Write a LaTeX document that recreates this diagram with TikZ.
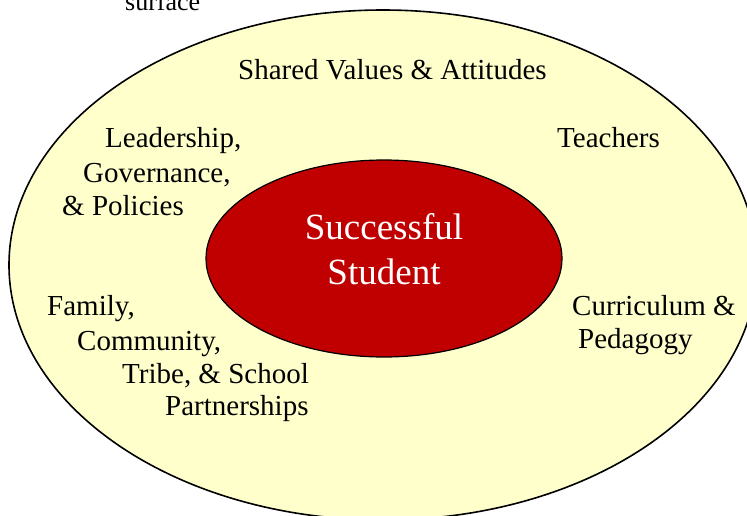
\documentclass[tikz,border=0pt]{standalone}
\usepackage{fontspec}
\setmainfont{Liberation Serif}
\definecolor{outerfill}{HTML}{FFFFCC}
\definecolor{innerfill}{HTML}{C00000}
\tikzset{
  lbl/.style={inner sep=0pt, anchor=base west, font=\fontsize{29}{35}\selectfont, text=black},
  toplbl/.style={inner sep=0pt, anchor=base west, font=\fontsize{26}{31}\selectfont, text=black},
  outerell/.style={draw=black, line width=1.6pt, fill=outerfill},
  innerell/.style={draw=black, line width=1.2pt, fill=innerfill},
  centerlbl/.style={align=center, text=white, font=\fontsize{37}{45}\selectfont}
}
\begin{document}
\begin{tikzpicture}[x=1pt,y=-1pt]
\useasboundingbox (0,0) rectangle (747,515);
\clip (0,0) rectangle (747,515);
\fill[white] (0,0) rectangle (747,515);
\node[toplbl] (surface) at (125,10) {surface};
\draw[outerell] (383,265) ellipse [x radius=374, y radius=255];
\draw[innerell] (384,258.5) ellipse [x radius=178, y radius=98.5];
\node[centerlbl] (student) at (384,249) {Successful\\Student};
\node[lbl] (shared) at (238,79) {Shared Values \& Attitudes};
\node[lbl] (teachers) at (557,147) {Teachers};
\node[lbl] (lead1) at (105,147) {Leadership,};
\node[lbl] (lead2) at (83,182) {Governance,};
\node[lbl] (lead3) at (62,215) {\& Policies};
\node[lbl] (fam1) at (47,315) {Family,};
\node[lbl] (fam2) at (77,350) {Community,};
\node[lbl] (fam3) at (122,383) {Tribe, \& School};
\node[lbl] (fam4) at (165,415) {Partnerships};
\node[lbl] (cur1) at (572,315) {Curriculum \&};
\node[lbl] (cur2) at (578,348) {Pedagogy};
\end{tikzpicture}
\end{document}
